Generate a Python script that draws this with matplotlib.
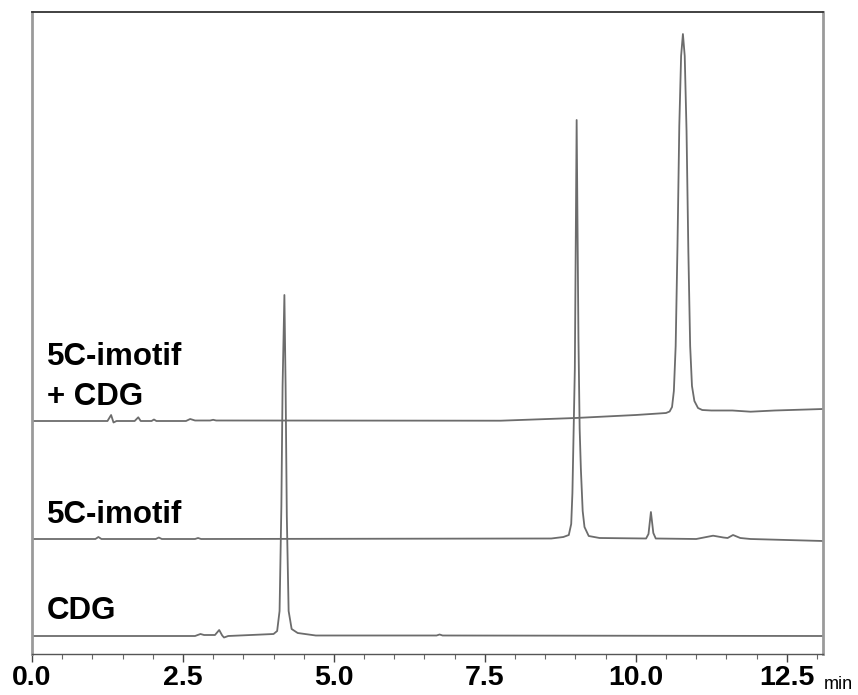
import matplotlib
matplotlib.use("Agg")
import matplotlib.pyplot as plt
from matplotlib.ticker import MultipleLocator
import numpy as np

# ---------------- data ----------------
# Retention time (min) and detector signal (arb. units, relative to each trace's own baseline)
cdg_t = [0.0, 2.70, 2.79, 2.85, 3.03, 3.10, 3.15, 3.18, 3.25, 4.00, 4.06, 4.10, 4.13,
         4.15, 4.18, 4.20, 4.22, 4.25, 4.30, 4.40, 4.70, 6.70, 6.75, 6.80, 13.1]
cdg_s = [0.0, 0.0, 2.0, 1.0, 1.0, 6.0, 0.5, -1.5, 0.0, 2.0, 5.0, 25.0, 130.0,
         250.0, 341.0, 250.0, 120.0, 25.0, 7.0, 3.0, 0.5, 0.5, 1.5, 0.5, 0.0]

imotif_t = [0.0, 1.05, 1.10, 1.15, 2.05, 2.10, 2.15, 2.70, 2.75, 2.80, 8.60, 8.80, 8.89,
            8.93, 8.95, 8.99, 9.02, 9.05, 9.07, 9.09, 9.12, 9.15, 9.22, 9.40, 10.17, 10.21,
            10.25, 10.29, 10.33, 11.00, 11.28, 11.45, 11.52, 11.61, 11.73, 11.90, 12.50, 13.1]
imotif_s = [0.0, 0.0, 2.0, 0.0, 0.0, 1.5, 0.0, 0.0, 1.0, 0.0, 0.5, 2.0, 4.0,
            15.0, 46.0, 170.0, 419.0, 200.0, 110.0, 70.0, 28.0, 12.0, 3.0, 1.0, 0.5, 5.0,
            27.0, 6.0, 0.5, 0.0, 3.3, 1.5, 1.0, 4.0, 1.0, 0.0, -1.0, -2.0]

mix_t = [0.0, 1.25, 1.31, 1.35, 1.40, 1.70, 1.76, 1.80, 1.98, 2.02, 2.06, 2.55, 2.62,
         2.70, 2.95, 3.00, 3.05, 7.76, 9.00, 10.00, 10.50, 10.56, 10.60, 10.63, 10.66,
         10.69, 10.72, 10.75, 10.78, 10.81, 10.84, 10.87, 10.90, 10.93, 10.97, 11.03,
         11.10, 11.25, 11.60, 11.90, 12.30, 13.1]
mix_s = [0.0, 0.0, 6.0, -1.5, 0.0, 0.0, 3.7, 0.0, 0.0, 1.5, 0.0, 0.0, 2.0,
         0.5, 0.5, 1.2, 0.5, 0.3, 3.0, 6.0, 8.0, 9.5, 14.0, 30.0, 75.0,
         175.0, 295.0, 365.0, 387.0, 365.0, 290.0, 170.0, 75.0, 35.0, 20.0, 13.0,
         11.0, 10.5, 10.5, 9.3, 10.5, 12.0]

trace_names = ["CDG", "5C-imotif", "5C-imotif\n+ CDG"]
x_ticks = [0.0, 2.5, 5.0, 7.5, 10.0, 12.5]
x_tick_labels = ["0.0", "2.5", "5.0", "7.5", "10.0", "12.5"]

# ---------------- layout / style ----------------
offsets = [18, 115, 233]
line_color = "#6c6c6c"

fig = plt.figure(figsize=(8.58, 6.95), dpi=100)
ax = fig.add_axes([32/858, 1-654/695, 791/858, 642/695])

for t, s, off in zip([cdg_t, imotif_t, mix_t], [cdg_s, imotif_s, mix_s], offsets):
    ax.plot(t, np.asarray(s) + off, color=line_color, lw=1.3, solid_joinstyle="round")

ax.set_xlim(0, 13.1)
ax.set_ylim(0, 642)
ax.set_yticks([])
ax.set_xticks(x_ticks)
ax.set_xticklabels(x_tick_labels)
ax.xaxis.set_minor_locator(MultipleLocator(0.5))
ax.tick_params(axis="x", which="major", direction="out", length=6, width=1,
               color="#444444", pad=2)
ax.tick_params(axis="x", which="minor", direction="out", length=3.5, width=0.8,
               color="#666666")
for lab in ax.get_xticklabels():
    lab.set_fontfamily(["Liberation Sans", "DejaVu Sans"])
    lab.set_fontweight("bold")
    lab.set_fontsize(20.5)

ax.spines["top"].set_color("#333333")
ax.spines["top"].set_linewidth(1.3)
ax.spines["bottom"].set_color("#555555")
ax.spines["bottom"].set_linewidth(1.0)
for side in ("left", "right"):
    ax.spines[side].set_color("#9a9a9a")
    ax.spines[side].set_linewidth(2.0)

font_lab = dict(family=["Liberation Sans", "DejaVu Sans"], weight="bold", fontsize=22.5,
                color="black")
tx = 15/791
label_lines = [("5C-imotif", 365), ("+ CDG", 405), ("5C-imotif", 523), ("CDG", 619)]
for txt, ybase in label_lines:
    ax.text(tx, (654-ybase)/642, txt, transform=ax.transAxes, ha="left", va="baseline",
            **font_lab)

fig.text(824/858, 1-689/695, "min", ha="left", va="baseline",
         family=["Liberation Sans", "DejaVu Sans"], fontsize=13, color="black")

fig.savefig("out.png", dpi=100, facecolor="white")
